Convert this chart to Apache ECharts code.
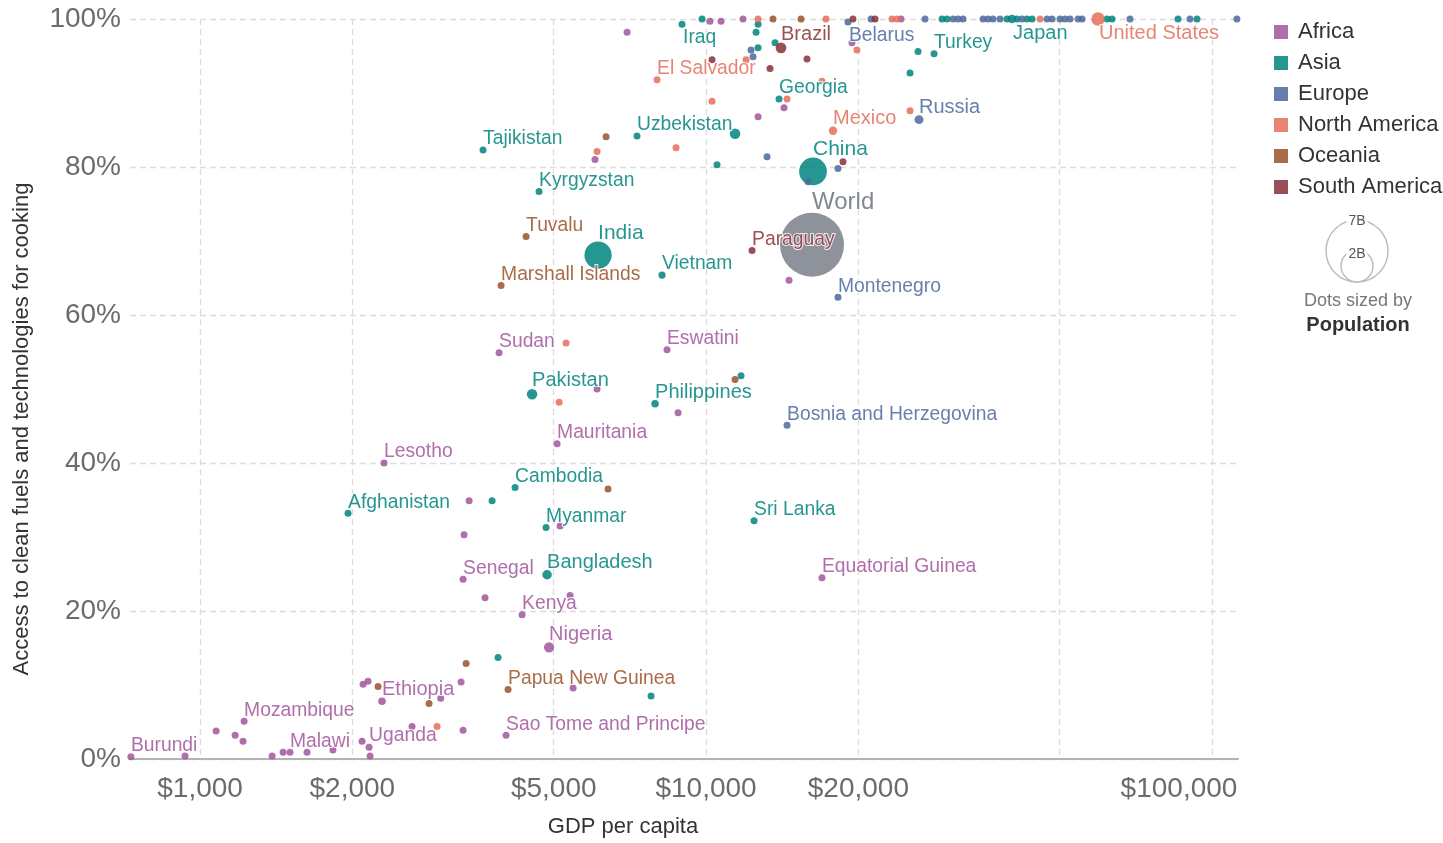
<!DOCTYPE html>
<html><head><meta charset="utf-8">
<script src="https://cdn.jsdelivr.net/npm/echarts@6/dist/echarts.min.js"></script>
<style>html,body{margin:0;padding:0;background:#fff}#c{width:1443px;height:843px}</style>
</head><body><div id="c"></div>
<script>
// [name, GDP per capita ($), access to clean cooking (%), population (millions)]
const africa = [
 ['Burundi', 730, 0.3, 11], ['', 934, 0.4, 10], ['', 1076, 3.8, 10], ['', 1173, 3.2, 10],
 ['Mozambique', 1222, 5.1, 29], ['', 1216, 2.4, 10], ['', 1388, 0.4, 10], ['', 1459, 0.9, 10],
 ['Malawi', 1506, 0.9, 18], ['', 1627, 0.9, 10], ['', 1831, 1.2, 10], ['', 2090, 2.4, 10],
 ['Uganda', 2158, 1.6, 42], ['', 2168, 0.4, 10], ['', 2100, 10.1, 10], ['', 2148, 10.5, 10],
 ['Ethiopia', 2289, 7.8, 105], ['Lesotho', 2310, 40.0, 2], ['', 2624, 4.4, 10], ['', 2990, 8.2, 10],
 ['', 3280, 10.4, 10], ['', 3310, 3.9, 10], ['Senegal', 3310, 24.3, 15], ['', 3325, 30.3, 10],
 ['', 3402, 34.9, 10], ['', 3658, 21.8, 10], ['Sudan', 3899, 54.9, 40],
 ['Sao Tome and Principe', 4025, 3.2, 0.2], ['Kenya', 4330, 19.5, 50], ['Nigeria', 4895, 15.1, 190],
 ['Mauritania', 5077, 42.6, 4], ['', 5147, 31.5, 10], ['', 5386, 22.1, 10], ['', 5461, 9.6, 10],
 ['', 6034, 81.0, 10], ['', 6090, 50.0, 10], ['', 6982, 98.2, 10], ['Eswatini', 8373, 55.3, 1.4],
 ['', 8805, 46.8, 10], ['', 10183, 99.7, 10], ['', 10706, 99.7, 10], ['', 11834, 100, 10],
 ['', 12672, 86.8, 10], ['', 14262, 88.0, 10], ['', 14590, 64.7, 10],
 ['Equatorial Guinea', 16949, 24.5, 1.3], ['', 19428, 96.8, 10], ['', 24287, 100, 10]
];
const asia = [
 ['Afghanistan', 1961, 33.2, 35], ['Tajikistan', 3625, 82.3, 9], ['', 3777, 34.9, 10], ['', 3881, 13.7, 10],
 ['Cambodia', 4194, 36.7, 16], ['Pakistan', 4531, 49.3, 200], ['Kyrgyzstan', 4677, 76.7, 6],
 ['Myanmar', 4829, 31.3, 53], ['Bangladesh', 4851, 24.9, 163], ['India', 6118, 68.1, 1340],
 ['Uzbekistan', 7305, 84.2, 32], ['', 7786, 8.5, 10], ['Philippines', 7929, 48.0, 104],
 ['Vietnam', 8185, 65.4, 95], ['Iraq', 8966, 99.3, 38], ['', 9820, 100, 10], ['', 10513, 80.3, 10],
 ['', 11412, 84.5, 200], ['', 11728, 51.8, 10], ['Sri Lanka', 12443, 32.2, 21], ['', 12556, 98.2, 10],
 ['', 12672, 96.1, 10], ['', 12672, 99.3, 10], ['', 13690, 96.8, 10], ['Georgia', 13941, 89.2, 4],
 ['China', 16271, 79.4, 1390], ['', 25305, 92.7, 10], ['', 26244, 95.6, 10], ['Turkey', 28226, 95.3, 80],
 ['', 29274, 100, 10], ['', 29949, 100, 10], ['', 39346, 100, 10], ['Japan', 40250, 100, 127],
 ['', 41177, 100, 10], ['', 43093, 100, 10], ['', 44087, 100, 10], ['', 62019, 100, 10],
 ['', 63445, 100, 10], ['', 85668, 100, 10], ['', 93404, 100, 10]
];
const europe = [
 ['', 12273, 95.8, 10], ['', 12386, 94.9, 10], ['', 13200, 81.4, 10],
 ['Bosnia and Herzegovina', 14459, 45.1, 3.5], ['', 15905, 78.0, 10], ['Montenegro', 18231, 62.4, 0.6],
 ['', 18231, 79.8, 10], ['Belarus', 19078, 99.6, 9.5], ['', 21190, 100, 10], ['Russia', 26362, 86.4, 144],
 ['', 27093, 100, 10], ['', 30776, 100, 10], ['', 31485, 100, 10], ['', 32211, 100, 10],
 ['', 35277, 100, 10], ['', 36088, 100, 10], ['', 36920, 100, 10], ['', 38107, 100, 10],
 ['', 42125, 100, 10], ['', 47210, 100, 10], ['', 48300, 100, 10], ['', 50073, 100, 10],
 ['', 51227, 100, 10], ['', 52410, 100, 10], ['', 54361, 100, 10], ['', 55359, 100, 10],
 ['', 68848, 100, 10], ['', 90464, 100, 10], ['', 112000, 100, 10]
];
const northAmerica = [
 ['', 2941, 4.4, 10], ['', 5124, 48.2, 10], ['', 5289, 56.2, 10], ['', 6090, 82.1, 10],
 ['El Salvador', 8002, 91.8, 6], ['', 8724, 82.6, 10], ['', 10277, 88.9, 10], ['', 11996, 94.5, 10],
 ['', 12672, 100, 10], ['', 14459, 89.2, 10], ['', 16949, 91.6, 10], ['', 17263, 100, 10],
 ['Mexico', 17822, 84.9, 127], ['', 19875, 95.8, 10], ['', 23308, 100, 10], ['', 23845, 100, 10],
 ['', 25305, 87.6, 10], ['', 45728, 100, 10], ['United States', 59530, 100, 325]
];
const oceania = [
 ['', 2248, 9.8, 1], ['', 2835, 7.5, 1], ['', 3356, 12.9, 1], ['Marshall Islands', 3935, 64.0, 0.05],
 ['Papua New Guinea', 4062, 9.4, 8], ['Tuvalu', 4409, 70.6, 0.01], ['', 6345, 84.1, 1],
 ['', 6402, 36.5, 1], ['', 11412, 51.3, 1], ['', 13563, 100, 1], ['', 15405, 100, 1]
];
const southAmerica = [
 ['', 10277, 94.5, 10], ['Paraguay', 12330, 68.7, 7], ['', 13380, 93.3, 10], ['Brazil', 14067, 96.1, 207],
 ['', 15832, 94.6, 10], ['', 18651, 80.7, 10], ['', 19517, 100, 10], ['', 21580, 100, 10]
];
const world = [['World', 16200, 69.5, 7400]];

const continents = ['Africa', 'Asia', 'Europe', 'North America', 'Oceania', 'South America'];
const continentRows = [africa, asia, europe, northAmerica, oceania, southAmerica];
const colors = ['#A2559C', '#00847E', '#4C6A9C', '#E56E5A', '#9A5129', '#883039'];
const xGridValues = [1000, 2000, 5000, 10000, 20000, 50000, 100000];
const xLabelValues = [1000, 2000, 5000, 10000, 20000, 100000];

const FONT = '"Liberation Sans", Arial, Helvetica, sans-serif';
const labelBelow = new Set(['Iraq', 'Belarus', 'Japan', 'United States']);
const sizeOf = pop => Math.max(7, 64 * Math.sqrt(pop / 7400));
const labelSizeOf = pop => pop >= 5000 ? 24 : pop >= 1000 ? 21 : pop >= 100 ? 20 : 19.3;

function toItems(rows) {
  return rows.map(r => {
    const item = { name: r[0], value: [Math.log10(r[1]), r[2], r[3]] };
    if (!r[0]) item.label = { show: false };
    else if (labelBelow.has(r[0])) item.label = { show: true, fontSize: labelSizeOf(r[3]), position: 'inside', align: 'left', verticalAlign: 'top', offset: [1, 4] };
    else item.label = { show: true, fontSize: labelSizeOf(r[3]) };
    return item;
  });
}
function baseLabel(color) {
  return { show: true, position: 'top', distance: -2, align: 'left', verticalAlign: 'bottom',
    formatter: '{b}', color: color, fontSize: 19.3, fontFamily: FONT,
    textBorderColor: '#fff', textBorderWidth: 2 };
}
const series = [{
  type: 'scatter', name: 'World', data: toItems(world),
  symbolSize: v => sizeOf(v[2]),
  itemStyle: { color: '#7a808a', opacity: 0.85 },
  label: baseLabel('#6b7280'), emphasis: { disabled: true }, z: 1
}];
continents.forEach((c, i) => {
  series.push({
    type: 'scatter', name: c, data: toItems(continentRows[i]),
    symbolSize: v => sizeOf(v[2]),
    itemStyle: { color: colors[i], opacity: 0.85 },
    label: baseLabel(colors[i]), emphasis: { disabled: true }, z: 2
  });
});

const fmtMoney = v => '$' + Math.round(Math.pow(10, v)).toLocaleString('en-US');
const chart = echarts.init(document.getElementById('c'));
chart.setOption({
  animation: false,
  textStyle: { fontFamily: FONT },
  grid: { left: 130, right: 205, top: 19, bottom: 82 },
  xAxis: {
    type: 'value', min: Math.log10(727), max: Math.log10(112560),
    name: 'GDP per capita', nameLocation: 'middle', nameGap: 57,
    nameTextStyle: { fontSize: 22, color: '#333', padding: [0, 122, 0, 0], fontFamily: FONT },
    axisLine: { show: true, lineStyle: { color: '#b3b3b3', width: 2 } },
    axisTick: { show: false, customValues: xGridValues.map(v => Math.log10(v)) },
    axisLabel: {
      customValues: xLabelValues.map(v => Math.log10(v)),
      fontSize: 28, color: '#6b6b6b', margin: 16, fontFamily: FONT,
      formatter: v => (Math.round(Math.pow(10, v)) >= 100000 ? '{r|' + fmtMoney(v) + '}' : fmtMoney(v)),
      rich: { r: { fontSize: 28, color: '#6b6b6b', fontFamily: FONT, padding: [0, 66, 0, 0] } }
    },
    splitLine: { show: true, lineStyle: { color: '#dcdcdc', width: 1.3, type: [6, 4] } }
  },
  yAxis: {
    type: 'value', min: 0, max: 100, interval: 20,
    name: 'Access to clean fuels and technologies for cooking', nameLocation: 'middle', nameGap: 97,
    nameTextStyle: { fontSize: 22, color: '#333', padding: [0, 80, 0, 0], fontFamily: FONT },
    axisLine: { show: false }, axisTick: { show: false },
    axisLabel: { formatter: '{value}%', fontSize: 28, color: '#6b6b6b', margin: 9, fontFamily: FONT },
    splitLine: { show: true, lineStyle: { color: '#dcdcdc', width: 1.3, type: [6, 4] } }
  },
  legend: {
    data: continents, orient: 'vertical', left: 1274, top: 21, padding: 0, icon: 'rect',
    itemWidth: 14, itemHeight: 14, itemGap: 9,
    textStyle: { fontSize: 22, color: '#333', fontFamily: FONT, padding: [0, 0, 0, 5] }
  },
  graphic: [
    { type: 'circle', shape: { cx: 1357, cy: 251, r: 31 }, style: { fill: 'none', stroke: '#bdbdbd', lineWidth: 1.5 } },
    { type: 'circle', shape: { cx: 1357, cy: 266, r: 16 }, style: { fill: 'none', stroke: '#bdbdbd', lineWidth: 1.5 } },
    { type: 'text', x: 1357, y: 221, style: { text: '7B', align: 'center', verticalAlign: 'middle', fontSize: 14, fill: '#555', fontFamily: FONT, backgroundColor: '#fff', padding: [1, 2] } },
    { type: 'text', x: 1357, y: 254, style: { text: '2B', align: 'center', verticalAlign: 'middle', fontSize: 14, fill: '#555', fontFamily: FONT, backgroundColor: '#fff', padding: [1, 2] } },
    { type: 'text', x: 1358, y: 301, style: { text: 'Dots sized by', align: 'center', verticalAlign: 'middle', fontSize: 18, fill: '#777', fontFamily: FONT } },
    { type: 'text', x: 1358, y: 325, style: { text: 'Population', align: 'center', verticalAlign: 'middle', fontSize: 20, fontWeight: 'bold', fill: '#333', fontFamily: FONT } }
  ],
  series: series
});
</script></body></html>
